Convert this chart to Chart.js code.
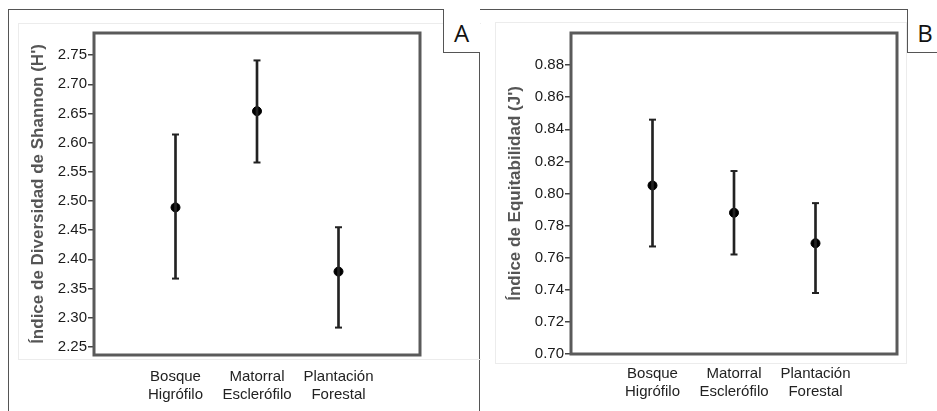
<!DOCTYPE html>
<html>
<head>
<meta charset="utf-8">
<script src="https://cdn.jsdelivr.net/npm/chart.js@4.4.0/dist/chart.umd.min.js"></script>
<style>
  body { margin: 0; width: 937px; height: 411px; background: #fff; position: relative; overflow: hidden; font-family: 'Liberation Sans', Arial, sans-serif; }
  .abs { position: absolute; }
  .panel-letter { position: absolute; font-family: 'Open Sans', 'DejaVu Sans', sans-serif; font-size: 24px; color: #111; text-align: center; }
</style>
</head>
<body>
<!-- marcos externos -->
<div class="abs" style="left:8px;top:9px;width:929px;height:0;border-top:1.5px solid #555"></div>
<div class="abs" style="left:8px;top:9px;width:0;height:402px;border-left:1.5px solid #555"></div>
<div class="abs" style="left:479px;top:9px;width:0;height:402px;border-left:1.5px solid #555"></div>
<!-- rectangulos tenues -->
<div class="abs" style="left:18px;top:23px;width:462px;height:335px;border:1px solid #ececec;border-right:none"></div>
<div class="abs" style="left:495px;top:22px;width:410px;height:340px;border:1px solid #ececec"></div>
<!-- caja A -->
<div class="abs" style="left:443px;top:9px;width:36px;height:43px;border-left:1.5px solid #555;border-bottom:1.5px solid #555;background:#fff"></div>
<div class="panel-letter" style="left:443px;top:16px;width:37px;">A</div>
<!-- caja B -->
<div class="abs" style="left:907px;top:9px;width:40px;height:43px;border-left:1.5px solid #555;border-bottom:1.5px solid #555;background:#fff"></div>
<div class="panel-letter" style="left:908px;top:16px;width:34px;">B</div>

<div class="abs" style="left:0;top:0;width:480px;height:411px"><canvas id="chartA"></canvas></div>
<div class="abs" style="left:480px;top:0;width:457px;height:411px"><canvas id="chartB"></canvas></div>

<script>
// --- Datos ---
const categories = [['Bosque', 'Higrófilo'], ['Matorral', 'Esclerófilo'], ['Plantación', 'Forestal']];

// Panel A: índice de Shannon
const shannonMean  = [2.489, 2.654, 2.379];
const shannonUpper = [2.614, 2.741, 2.455];
const shannonLower = [2.367, 2.566, 2.283];
const shannonTicks = [2.25, 2.30, 2.35, 2.40, 2.45, 2.50, 2.55, 2.60, 2.65, 2.70, 2.75];

// Panel B: equitabilidad
const equitMean  = [0.805, 0.788, 0.769];
const equitUpper = [0.846, 0.814, 0.794];
const equitLower = [0.767, 0.762, 0.738];
const equitTicks = [0.70, 0.72, 0.74, 0.76, 0.78, 0.80, 0.82, 0.84, 0.86, 0.88];

const FONT = "'Liberation Sans', Arial, sans-serif";

// marco gris grueso alrededor del área del gráfico
const framePlugin = {
  id: 'frame',
  beforeDatasetsDraw(chart) {
    const { ctx, chartArea: a } = chart;
    ctx.save();
    ctx.strokeStyle = '#5a5a5a';
    ctx.lineWidth = 3;
    ctx.strokeRect(a.left, a.top, a.right - a.left, a.bottom - a.top);
    ctx.restore();
  }
};

// categorías con un hueco a cada lado (así quedan a 1/4, 2/4, 3/4 del ancho)
const pad = arr => [null, ...arr, null];

function makeChart(canvas, o) {
  return new Chart(canvas, {
    type: 'bar',
    data: {
      labels: ['', ...categories, ''],
      datasets: [
        {
          // barra de error
          data: pad(o.lower.map((l, i) => [l, o.upper[i]])),
          backgroundColor: '#222',
          borderWidth: 0,
          barThickness: 2
        },
        {
          type: 'line', data: pad(o.upper), showLine: false,
          pointStyle: 'line', pointRadius: 3.5, borderColor: '#222', borderWidth: 2
        },
        {
          type: 'line', data: pad(o.lower), showLine: false,
          pointStyle: 'line', pointRadius: 3.5, borderColor: '#222', borderWidth: 2
        },
        {
          type: 'line', data: pad(o.mean), showLine: false,
          pointStyle: 'circle', pointRadius: 4.5, backgroundColor: '#000', borderColor: '#000', borderWidth: 1
        }
      ]
    },
    options: {
      responsive: true,
      maintainAspectRatio: false,
      animation: false,
      layout: { padding: { top: 33, right: o.rightPad, left: 0, bottom: 0 } },
      plugins: { legend: { display: false }, tooltip: { enabled: false } },
      scales: {
        x: {
          offset: false,
          grid: { display: false, offset: false },
          border: { display: false },
          afterFit(scale) { scale.height = o.xHeight; },
          ticks: {
            color: '#222', autoSkip: false, maxRotation: 0, padding: o.labelPad,
            font: { family: FONT, size: 15 }
          }
        },
        y: {
          min: o.min,
          max: o.max,
          afterBuildTicks(scale) { scale.ticks = o.ticks.map(v => ({ value: v })); },
          afterFit(scale) { scale.width = o.yWidth; },
          border: { display: false },
          grid: { drawOnChartArea: false, drawTicks: true, tickLength: 6, color: '#444', lineWidth: 1.5 },
          ticks: {
            color: '#1a1a1a', padding: 1,
            font: { family: FONT, size: 15 },
            callback: v => Number(v).toFixed(2)
          },
          title: {
            display: true, text: o.title, color: '#555',
            font: { family: FONT, size: 17, weight: 'bold' },
            padding: { top: o.titlePad, bottom: 0 }
          }
        }
      }
    },
    plugins: [framePlugin]
  });
}

makeChart(document.getElementById('chartA'), {
  mean: shannonMean, upper: shannonUpper, lower: shannonLower, ticks: shannonTicks,
  min: 2.236, max: 2.788, title: "Índice de Diversidad de Shannon (H')",
  yWidth: 94, xHeight: 56, rightPad: 60, titlePad: 28, labelPad: 5
});

makeChart(document.getElementById('chartB'), {
  mean: equitMean, upper: equitUpper, lower: equitLower, ticks: equitTicks,
  min: 0.70, max: 0.90, title: "Índice de Equitabilidad (J')",
  yWidth: 91, xHeight: 57, rightPad: 40, titlePad: 25, labelPad: 3
});
</script>
</body>
</html>
